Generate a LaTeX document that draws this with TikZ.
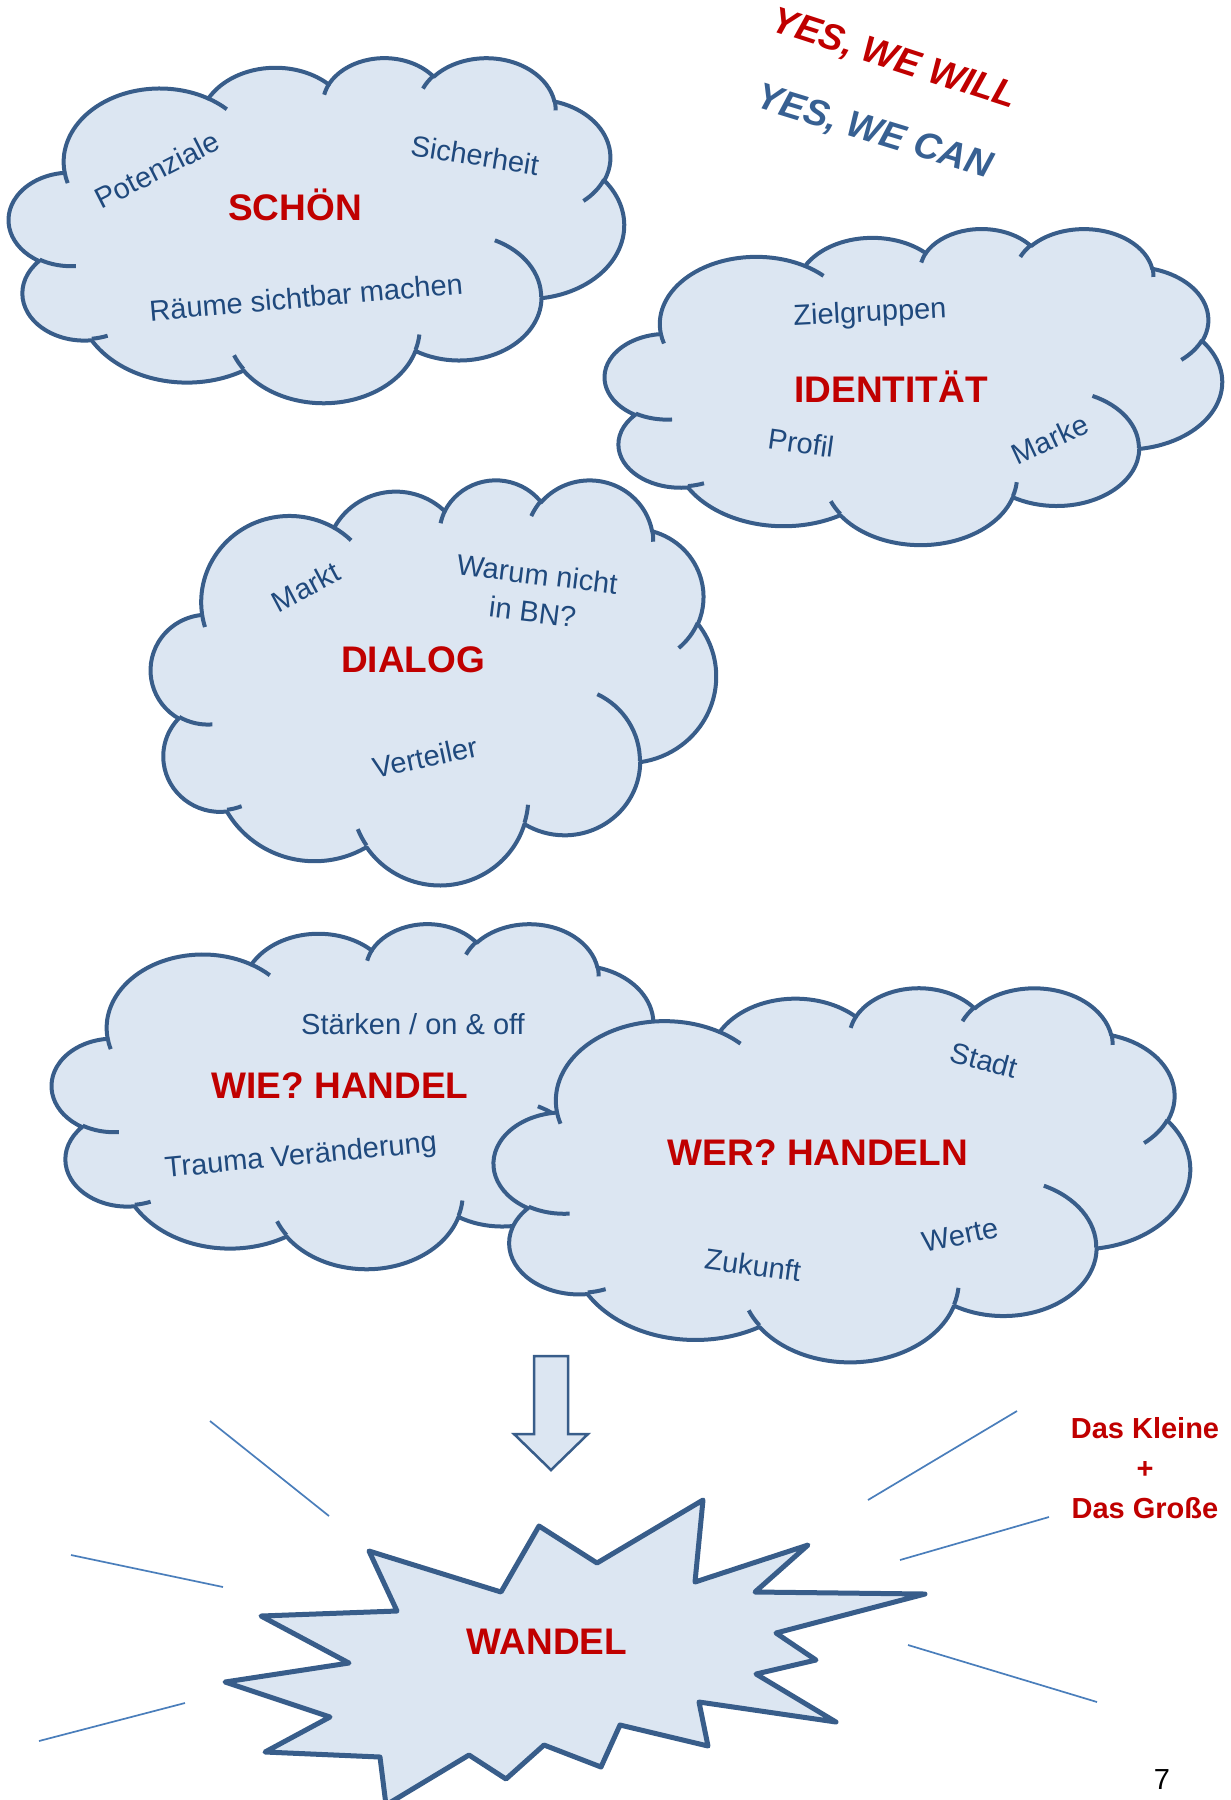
\documentclass[tikz,border=0pt]{standalone}
\usepackage{fontspec}
\setmainfont{Liberation Sans}
\definecolor{cloudline}{HTML}{385D8A}
\definecolor{cloudfill}{HTML}{DCE6F2}
\definecolor{keyred}{HTML}{C00000}
\definecolor{wordblue}{HTML}{1F497D}
\definecolor{canblue}{HTML}{376092}
\definecolor{raycol}{HTML}{4A7EBB}
\tikzset
{
    cloudbody/.style  = {draw=cloudline, fill=cloudfill, line width=4pt, line join=round},
    cloudtick/.style  = {draw=cloudline, line width=4pt},
    keyword/.style    = {text=keyred, font=\bfseries\fontsize{37}{44}\selectfont, inner sep=0pt},
    topic/.style      = {text=wordblue, font=\fontsize{29}{38}\selectfont, inner sep=0pt, align=center},
    slogan/.style     = {font=\bfseries\itshape\fontsize{37}{44}\selectfont, inner sep=0pt},
    burst/.style      = {draw=cloudline, fill=cloudfill, line width=5pt, line join=round},
    blockarrow/.style = {draw=cloudline, fill=cloudfill, line width=2.5pt},
    ray/.style        = {draw=raycol, line width=1.7pt}
}
% word-style cloud: left, top, width, height
\newcommand{\wordcloud}[4]{%
  \begin{scope}[shift={(#1,#2)}, xscale={#3/432}, yscale={#4/432}]
    \draw[cloudbody] (39.00,143.70)
      \foreach \rx/\ry/\sa/\da [evaluate={\sa as \ta using atan2(\rx*sin(\sa),\ry*cos(\sa))},
                               evaluate={\sa as \tb using atan2(\rx*sin(\sa+\da),\ry*cos(\sa+\da))},
                               evaluate={\da as \dd using mod(\tb-\ta+720,360)}]
      in {67.53/91.90/-190.4875/123.7805, 53.33/72.67/-144.1024/89.9452,
          43.65/59.45/-145.8079/99.7230, 48.57/65.95/-130.9861/117.2417,
          53.33/72.73/-78.7089/109.0269, 67.75/92.20/-46.2673/130.2690,
          57.85/78.67/0.6250/114.0333, 67.52/92.15/22.4516/115.1726,
          77.20/105.43/66.2426/75.7110, 43.60/59.18/-274.9421/146.7356,
          43.45/59.45/-246.8285/152.5189}
      { arc[x radius=\rx, y radius=\ry, start angle=\ta, delta angle=\dd] } -- cycle;
    \foreach \px/\py/\rx/\ry/\sa/\da [evaluate={\sa as \ta using atan2(\rx*sin(\sa),\ry*cos(\sa))},
                                     evaluate={\sa as \tb using atan2(\rx*sin(\sa+\da),\ry*cos(\sa+\da))},
                                     evaluate={\da as \dd using mod(\tb-\ta+720,360)}]
      in {46.93/261.77/43.45/59.45/86.7420/26.4295, 69.28/348.99/43.60/59.18/73.6105/11.4475,
          164.78/390.90/67.52/92.15/137.6242/14.0811, 288.27/347.51/67.52/92.15/6.4533/15.9984,
          341.29/229.54/57.85/78.67/-70.2924/70.9174, 417.98/153.54/53.33/72.73/30.3180/27.7515,
          383.24/54.26/48.57/65.95/-13.7443/14.8589, 290.78/39.52/48.57/65.95/-149.1815/18.1954,
          221.41/47.20/43.65/59.45/-163.4943/17.6864, 140.00/51.92/67.53/91.90/-66.7070/12.3194,
          41.27/157.89/67.53/91.90/157.6544/11.8582}
      \draw[cloudtick] (\px,\py) arc[x radius=\rx, y radius=\ry, start angle=\ta, delta angle=\dd];
  \end{scope}}

\begin{document}
\begin{tikzpicture}[x=1pt, y=1pt, yscale=-1]
	\useasboundingbox (0,0) rectangle (1231,1800);

	\node[slogan, text=keyred, rotate=-18] (will) at (894,60) {YES, WE WILL};
	\node[slogan, text=canblue, rotate=-17] (can) at (874,133) {YES, WE CAN};

	\wordcloud{9}{57}{615}{345}
	\node[topic, rotate=27] (pot) at (157,170) {Potenziale};
	\node[topic, rotate=-9] (sich) at (475,155) {Sicherheit};
	\node[keyword] (schoen) at (295,205) {SCHÖN};
	\node[topic, rotate=5] (raum) at (306,297) {Räume sichtbar machen};

	\wordcloud{605}{228}{617}{316}
	\node[topic, rotate=3] (ziel) at (870,314) {Zielgruppen};
	\node[keyword] (ident) at (891,387) {IDENTITÄT};
	\node[topic, rotate=-8] (prof) at (801,443) {Profil};
	\node[topic, rotate=25] (mark) at (1050,439) {Marke};

	\wordcloud{151}{479}{565}{405}
	\node[topic, rotate=28] (markt) at (306,587) {Markt};
	\node[topic, rotate=-7] (warum) at (535,593) {Warum nicht\\in BN?};
	\node[keyword] (dialog) at (413,660) {DIALOG};
	\node[topic, rotate=12] (vert) at (425,757) {Verteiler};

	\wordcloud{52}{923}{615}{345}
	\node[topic] (staerk) at (413,1024) {Stärken / on \& off};
	\node[keyword] (wie) at (340,1086) {WIE? HANDEL};
	\node[topic, rotate=5.5] (trauma) at (301,1157) {Trauma Veränderung};

	\wordcloud{494}{987}{696}{374}
	\node[topic, rotate=-15] (stadt) at (984,1060) {Stadt};
	\node[keyword] (wer) at (818,1153) {WER? HANDELN};
	\node[topic, rotate=-8] (zuk) at (753,1265) {Zukunft};
	\node[topic, rotate=12] (werte) at (960,1235) {Werte};

	\draw[blockarrow] (534,1356) -- (568,1356) -- (568,1434) -- (588,1434) -- (551,1470)
		-- (514,1434) -- (534,1434) -- cycle;

	\draw[ray] (210,1421) -- (329,1516);
	\draw[ray] (71,1555) -- (223,1587);
	\draw[ray] (39,1741) -- (185,1703);
	\draw[ray] (868,1500) -- (1017,1411);
	\draw[ray] (900,1560) -- (1049,1517);
	\draw[ray] (908,1645) -- (1097,1702);

	\draw[burst] (369,1551) -- (501,1592) -- (539,1526) -- (597,1563) -- (703,1500) -- (695,1582)
		-- (808,1545) -- (755,1592) -- (925,1594) -- (776,1633) -- (816,1660) -- (756,1674)
		-- (836,1722) -- (699,1702) -- (708,1746) -- (620,1725) -- (601,1767) -- (544,1745)
		-- (506,1779) -- (469,1755) -- (386,1805) -- (380,1757) -- (265,1752) -- (330,1717)
		-- (225,1682) -- (349,1663) -- (261,1616) -- (397,1611) -- cycle;
	\node[keyword] (wandel) at (547,1642) {WANDEL};

	\node[text=keyred, font=\bfseries\fontsize{29}{40}\selectfont, align=center, inner sep=0pt] (klein) at (1145,1468) {Das Kleine\\+\\Das Große};
	\node[font=\fontsize{29}{34}\selectfont, inner sep=0pt] (page) at (1162,1780) {7};
\end{tikzpicture}
\end{document}
